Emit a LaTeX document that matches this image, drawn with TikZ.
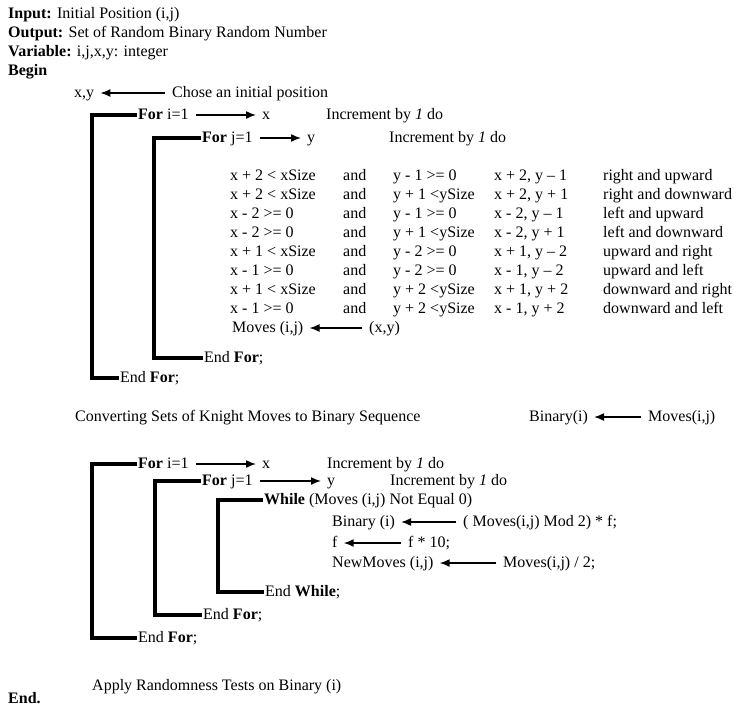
\documentclass[tikz,border=0pt]{standalone}
\usepackage{fontspec}
\setmainfont{Liberation Serif}
\usetikzlibrary{arrows.meta}
\begin{document}
\begin{tikzpicture}[x=1pt, y=-1pt, font=\fontsize{16}{19}\selectfont,
    txt/.style = {anchor=west, inner sep=1pt, text height=11pt, text depth=3pt},
    arr/.style = {-{Latex[length=10pt,width=8pt]}, line width=1.5pt, shorten <=6pt, shorten >=5pt},
    brk/.style = {line width=4pt}]
	\useasboundingbox (0,0) rectangle (738,710);
	% header
	\node[txt] (input) at (7,14) {\textbf{Input:} Initial Position (i,j)};
	\node[txt] (output) at (7,33) {\textbf{Output:} Set of Random Binary Random Number};
	\node[txt] (var) at (7,52) {\textbf{Variable:} i,j,x,y: integer};
	\node[txt] (begin) at (7,71) {\textbf{Begin}};
	\node[txt] (xy) at (73,93) {x,y};
	\node[txt] (chose) at (171,93) {Chose an initial position};
	\draw[arr] (chose) -- (xy);
	% first loop
	\node[txt] (fori) at (137,115) {\textbf{For} i=1};
	\node[txt] (xi) at (261,115) {x};
	\node[txt] (inci) at (325,115) {Increment by \textit{1} do};
	\draw[arr] (fori) -- (xi);
	\node[txt] (forj) at (201,138) {\textbf{For} j=1};
	\node[txt] (yj) at (306,138) {y};
	\node[txt] (incj) at (388,138) {Increment by \textit{1} do};
	\draw[arr] (forj) -- (yj);
	\foreach \i/\ca/\cb/\cc/\cd in {
	    1/{x + 2 < xSize}/{y - 1 >= 0}/{x + 2, y – 1}/{right and upward},
	    2/{x + 2 < xSize}/{y + 1 <ySize}/{x + 2, y + 1}/{right and downward},
	    3/{x - 2 >= 0}/{y - 1 >= 0}/{x - 2, y – 1}/{left and upward},
	    4/{x - 2 >= 0}/{y + 1 <ySize}/{x - 2, y + 1}/{left and downward},
	    5/{x + 1 < xSize}/{y - 2 >= 0}/{x + 1, y – 2}/{upward and right},
	    6/{x - 1 >= 0}/{y - 2 >= 0}/{x - 1, y – 2}/{upward and left},
	    7/{x + 1 < xSize}/{y + 2 <ySize}/{x + 1, y + 2}/{downward and right},
	    8/{x - 1 >= 0}/{y + 2 <ySize}/{x - 1, y + 2}/{downward and left}} {
	    \node[txt] (ca\i) at (229,157+19*\i) {\ca};
	    \node[txt] (and\i) at (342,157+19*\i) {and};
	    \node[txt] (cb\i) at (392,157+19*\i) {\cb};
	    \node[txt] (cc\i) at (493,157+19*\i) {\cc};
	    \node[txt] (cd\i) at (602,157+19*\i) {\cd};
	}
	\node[txt] (moves) at (231,328) {Moves (i,j)};
	\node[txt] (xyval) at (368,328) {(x,y)};
	\draw[arr] (xyval) -- (moves);
	\node[txt] (endj) at (203,358) {End \textbf{For};};
	\node[txt] (endi) at (119,378) {End \textbf{For};};
	\draw[brk] (fori.west) -- ++(-45,0) |- (endi.west);
	\draw[brk] (forj.west) -- ++(-47,0) |- (endj.west);
	% conversion
	\node[txt] (conv) at (74,417) {Converting Sets of Knight Moves to Binary Sequence};
	\node[txt] (bin) at (528,417) {Binary(i)};
	\node[txt] (movesij) at (647,417) {Moves(i,j)};
	\draw[arr] (movesij) -- (bin);
	% second loop
	\node[txt] (forii) at (137,464) {\textbf{For} i=1};
	\node[txt] (xii) at (261,464) {x};
	\node[txt] (incii) at (326,464) {Increment by \textit{1} do};
	\draw[arr] (forii) -- (xii);
	\node[txt] (forjj) at (201,481) {\textbf{For} j=1};
	\node[txt] (yjj) at (326,481) {y};
	\node[txt] (incjj) at (389,481) {Increment by \textit{1} do};
	\draw[arr] (forjj) -- (yjj);
	\node[txt] (while) at (263,500) {\textbf{While} (Moves (i,j) Not Equal 0)};
	\node[txt] (binary) at (331,522) {Binary (i)};
	\node[txt] (modf) at (462,522) {( Moves(i,j) Mod 2) * f;};
	\draw[arr] (modf) -- (binary);
	\node[txt] (f) at (331,543) {f};
	\node[txt] (ften) at (407,543) {f * 10;};
	\draw[arr] (ften) -- (f);
	\node[txt] (newmoves) at (331,563) {NewMoves (i,j)};
	\node[txt] (half) at (502,563) {Moves(i,j) / 2;};
	\draw[arr] (half) -- (newmoves);
	\node[txt] (endw) at (264,592) {End \textbf{While};};
	\node[txt] (endjj) at (202,615) {End \textbf{For};};
	\node[txt] (endii) at (137,638) {End \textbf{For};};
	\draw[brk] (forii.west) -- ++(-45,0) |- (endii.west);
	\draw[brk] (forjj.west) -- ++(-46,0) |- (endjj.west);
	\draw[brk] (while.west) -- ++(-45,0) |- (endw.west);
	% end
	\node[txt] (apply) at (91,686) {Apply Randomness Tests on Binary (i)};
	\node[txt] (end) at (7,699) {\textbf{End.}};
\end{tikzpicture}
\end{document}
